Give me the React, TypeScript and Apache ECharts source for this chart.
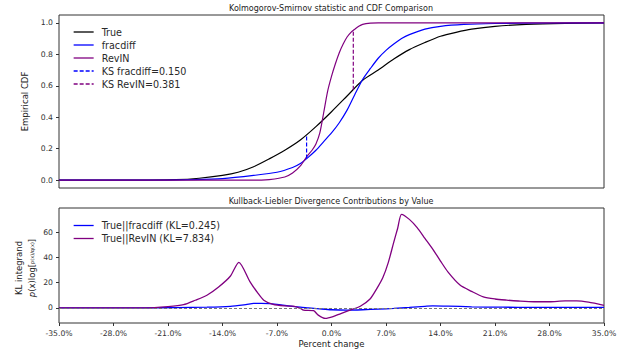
import React, { useEffect, useRef } from "react";
import * as echarts from "echarts";

const FONT = "DejaVu Sans";

// Top panel: empirical CDFs (x in percent change)
const trueX = [-35, -25, -20, -17, -14, -12, -10, -8, -6, -4, -2, 0, 2, 4, 6, 8, 10, 12, 14, 16, 18, 21, 25, 30, 35];
const trueCdf = [0, 0, 0.003, 0.012, 0.03, 0.05, 0.085, 0.135, 0.19, 0.255, 0.34, 0.435, 0.535, 0.635, 0.7, 0.77, 0.83, 0.875, 0.915, 0.94, 0.96, 0.978, 0.99, 0.997, 1.0];

const fracX = [-35, -22, -18, -14, -10, -7, -5, -4, -3, -2, -1, 0, 1, 2, 3, 4, 5, 6, 7, 8, 9, 10, 12, 14, 17, 21, 28, 35];
const fracCdf = [0, 0, 0.003, 0.01, 0.03, 0.05, 0.08, 0.105, 0.145, 0.19, 0.245, 0.3, 0.365, 0.445, 0.545, 0.64, 0.71, 0.775, 0.825, 0.865, 0.9, 0.925, 0.96, 0.978, 0.99, 0.996, 0.999, 1];

const revX = [-35, -9, -8, -6, -5, -4, -3.2, -2.5, -2, -1.5, -1, -0.5, 0, 0.5, 1, 1.5, 2, 2.5, 3, 3.5, 4, 5, 6, 35];
const revCdf = [0, 0, 0.003, 0.02, 0.045, 0.09, 0.148, 0.19, 0.23, 0.3, 0.43, 0.565, 0.66, 0.74, 0.81, 0.865, 0.91, 0.94, 0.96, 0.978, 0.99, 0.998, 1, 1];

// KS statistic segments
const ksFracX = -3.2;
const ksFracY = [0.137, 0.287];
const ksRevX = 2.8;
const ksRevY = [0.575, 0.956];

// Bottom panel: KL integrand contributions
const klFracX = [-35, -24, -20, -16, -13, -11, -10, -9, -8, -7, -6, -5, -4, -3, -1.5, 0, 2, 4, 6, 8, 10, 12, 13, 15, 18, 22, 26, 30, 35];
const klFracY = [0, 0, 0.2, 0.5, 1.2, 2.6, 3.5, 3.6, 3.3, 2.7, 2, 1.2, 0.5, 0, -0.8, -1.5, -1.8, -1.5, -1, -0.5, 0.3, 1.2, 1.6, 1.4, 0.8, 0.5, 0.4, 0.3, 0.3];

const klRevX = [-35, -24, -21, -19, -17.5, -16, -14.5, -13, -11.9, -10.5, -9.5, -8.7, -7.5, -6, -4.9, -4, -3.6, -2.3, -1.7, -0.8, 0.2, 1.2, 2.4, 3.7, 4.95, 5.8, 6.6, 7.3, 8, 8.5, 9, 10, 11, 12, 13, 14, 15, 16.5, 18, 19.5, 21, 22.5, 24, 26, 28, 30, 31.5, 33, 35];
const klRevY = [0, 0, 1, 2.5, 6, 10, 16.5, 25, 36, 21, 12, 6, 2.7, 1.5, 1.3, -0.5, -1.8, -2.3, -5.8, -8.4, -7, -4.5, -1.8, 1.3, 7, 15, 24, 36, 52, 63, 74, 70, 63.5, 55, 46.5, 37, 28, 18, 13, 8.7, 7, 6.1, 5.4, 4.8, 4.8, 5.5, 5.5, 4.5, 2];

// Axis ticks
const cdfTicks = [0, 0.2, 0.4, 0.6, 0.8, 1.0];
const klTicks = [0, 20, 40, 60];

const zip = (xs: number[], ys: number[]) => xs.map((x, i) => [x, ys[i]]);

export default function App() {
  const ref = useRef<HTMLDivElement>(null);
  useEffect(() => {
    document.body.style.margin = "0";
    if (!ref.current) return;
    const chart = echarts.init(ref.current, null, { renderer: "svg" });
    const tickLabel = { fontSize: 7.7, color: "#333", fontFamily: FONT };
    const lineBase = { type: "line", showSymbol: false, symbol: "none", smooth: 0.25 };
    const legendBase = {
      orient: "vertical", left: 68, itemWidth: 20, itemHeight: 12, itemGap: 3,
      itemStyle: { opacity: 0 },
      lineStyle: { width: 1.3 },
      textStyle: { fontSize: 9.6, color: "#2a2a2a", fontFamily: FONT, padding: [0, 0, 0, 3] },
    };
    const option: any = {
      animation: false,
      backgroundColor: "#fff",
      textStyle: { fontFamily: FONT },
      grid: [
        { left: 59, right: 17, top: 15, height: 173, show: true, borderColor: "#333", borderWidth: 1 },
        { left: 59, right: 17, top: 208, height: 115, show: true, borderColor: "#333", borderWidth: 1 },
      ],
      xAxis: [
        {
          gridIndex: 0, type: "value", min: -35, max: 35, interval: 7,
          axisLine: { show: false, onZero: false }, axisTick: { show: false }, axisLabel: { show: false }, splitLine: { show: false },
        },
        {
          gridIndex: 1, type: "value", min: -35, max: 35, interval: 7,
          axisLine: { show: false, onZero: false },
          axisTick: { show: true, length: 3, lineStyle: { color: "#333" } },
          axisLabel: { ...tickLabel, margin: 6, showMinLabel: true, showMaxLabel: true, formatter: (v: number) => v.toFixed(1) + "%" },
          splitLine: { show: false },
          name: "Percent change", nameLocation: "middle", nameGap: 16,
          nameTextStyle: { fontSize: 8.5, color: "#222", fontFamily: FONT },
        },
      ],
      yAxis: [
        {
          gridIndex: 0, type: "value", min: -0.05, max: 1.05,
          axisLine: { show: false, onZero: false },
          axisTick: { show: true, length: 3, customValues: cdfTicks, lineStyle: { color: "#333" } },
          axisLabel: { ...tickLabel, margin: 6, customValues: cdfTicks, formatter: (v: number) => v.toFixed(1) },
          splitLine: { show: false },
          name: "Empirical CDF", nameLocation: "middle", nameGap: 24,
          nameTextStyle: { fontSize: 8.5, color: "#222", fontFamily: FONT },
        },
        {
          gridIndex: 1, type: "value", min: -12, max: 79,
          axisLine: { show: false, onZero: false },
          axisTick: { show: true, length: 3, customValues: klTicks, lineStyle: { color: "#333" } },
          axisLabel: { ...tickLabel, margin: 6, customValues: klTicks, formatter: (v: number) => String(v) },
          splitLine: { show: false },
        },
      ],
      legend: [
        { ...legendBase, top: 22, data: ["True", "fracdiff", "RevIN", "KS fracdiff=0.150", "KS RevIN=0.381"] },
        { ...legendBase, top: 215.5, data: ["True||fracdiff (KL=0.245)", "True||RevIN (KL=7.834)"] },
      ],
      graphic: [
        {
          type: "text", x: 331, y: 8,
          style: { text: "Kolmogorov-Smirnov statistic and CDF Comparison", fontSize: 8, fill: "#222", fontFamily: FONT, textAlign: "center", textVerticalAlign: "middle" },
        },
        {
          type: "text", x: 331, y: 201,
          style: { text: "Kullback-Liebler Divergence Contributions by Value", fontSize: 8, fill: "#222", fontFamily: FONT, textAlign: "center", textVerticalAlign: "middle" },
        },
        {
          type: "text", x: 19, y: 268, rotation: Math.PI / 2,
          style: { text: "KL integrand", fontSize: 8.5, fill: "#222", fontFamily: FONT, textAlign: "center", textVerticalAlign: "middle" },
        },
        {
          type: "text", x: 32, y: 268, rotation: Math.PI / 2,
          style: {
            text: "{i|p}(x)log[{s|p(x)/q(x)}]",
            fontSize: 8.5, fill: "#222", fontFamily: FONT, textAlign: "center", textVerticalAlign: "middle",
            rich: {
              i: { fontStyle: "italic", fontSize: 8.5, fill: "#222", fontFamily: FONT },
              s: { fontSize: 5, fill: "#222", fontFamily: FONT },
            },
          },
        },
      ],
      series: [
        { ...lineBase, name: "True", xAxisIndex: 0, yAxisIndex: 0, data: zip(trueX, trueCdf), color: "#000", lineStyle: { color: "#000", width: 1.2 } },
        { ...lineBase, name: "fracdiff", xAxisIndex: 0, yAxisIndex: 0, data: zip(fracX, fracCdf), color: "#0000ff", lineStyle: { color: "#0000ff", width: 1.2 } },
        { ...lineBase, name: "RevIN", xAxisIndex: 0, yAxisIndex: 0, data: zip(revX, revCdf), color: "#800080", lineStyle: { color: "#800080", width: 1.2 } },
        { ...lineBase, smooth: false, name: "KS fracdiff=0.150", xAxisIndex: 0, yAxisIndex: 0, data: ksFracY.map((y) => [ksFracX, y]), color: "#0000ff", lineStyle: { color: "#0000ff", width: 1.2, type: [4, 2] } },
        { ...lineBase, smooth: false, name: "KS RevIN=0.381", xAxisIndex: 0, yAxisIndex: 0, data: ksRevY.map((y) => [ksRevX, y]), color: "#800080", lineStyle: { color: "#800080", width: 1.2, type: [4, 2] } },
        {
          ...lineBase, name: "True||fracdiff (KL=0.245)", xAxisIndex: 1, yAxisIndex: 1, data: zip(klFracX, klFracY),
          color: "#0000ff", lineStyle: { color: "#0000ff", width: 1.3 },
        },
        {
          ...lineBase, name: "True||RevIN (KL=7.834)", xAxisIndex: 1, yAxisIndex: 1, data: zip(klRevX, klRevY),
          color: "#800080", lineStyle: { color: "#800080", width: 1.3 },
          markLine: {
            silent: true, symbol: ["none", "none"], label: { show: false },
            lineStyle: { color: "#777", type: [3, 2], width: 1.2 },
            data: [{ yAxis: 0 }],
          },
        },
      ],
    };
    chart.setOption(option);
    return () => chart.dispose();
  }, []);
  return <div ref={ref} style={{ width: 621, height: 357 }} />;
}
